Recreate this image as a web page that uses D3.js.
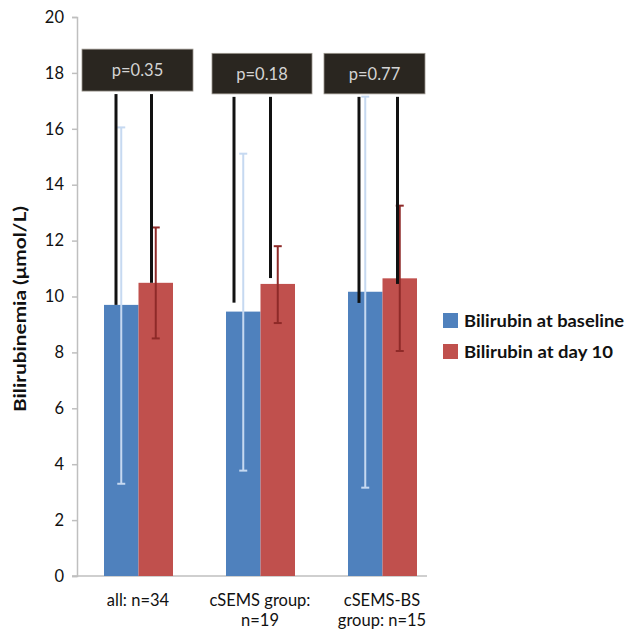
<!DOCTYPE html>
<html>
<head>
    <script src='https://d3js.org/d3.v7.min.js'></script>
    <style>
        body { margin: 0; background: #fff; }
        text { font-family: Lato, 'Open Sans', sans-serif; }
    </style>
</head>
<body>
<svg width='630' height='629'></svg>
<script>

    // data
    var groups = ['all: n=34', 'cSEMS group:\nn=19', 'cSEMS-BS\ngroup: n=15'];
    var seriesNames = ['Bilirubin at baseline', 'Bilirubin at day 10'];
    var baseline = [9.7, 9.46, 10.17];
    var baselineLow = [3.3, 3.77, 3.16];
    var baselineHigh = [16.05, 15.11, 17.15];
    var day10 = [10.49, 10.45, 10.65];
    var day10Low = [8.5, 9.05, 8.05];
    var day10High = [12.47, 11.8, 13.25];
    var pLabels = ['p=0.35', 'p=0.18', 'p=0.77'];
    var pBoxTop = [18.85, 18.7, 18.7];
    var pBoxBottom = [17.35, 17.25, 17.25];
    var bracketLeftEnd = [9.7, 9.78, 9.77];
    var bracketRightEnd = [10.49, 10.66, 10.45];
    var yTicks = [0, 2, 4, 6, 8, 10, 12, 14, 16, 18, 20];

    (function () {
    var colors = ['#4f81bd', '#c0504d'];
    var errColors = ['#c6d9f1', '#8e2a28'];

    var svg = d3.select('svg');

    // plot area
    var plotLeft = 77, plotTop = 17, plotBottom = 576;

    var y = d3.scaleLinear().domain([0, 20]).range([plotBottom, plotTop]);
    var x0 = d3.scaleBand().domain(d3.range(groups.length)).range([plotLeft, plotLeft + 366]);
    var x1 = d3.scaleBand().domain([0, 1]).range([27, 96]);

    // y axis
    var yAxis = svg.append('g')
        .attr('transform', 'translate(' + plotLeft + ',0)')
        .call(d3.axisLeft(y).tickValues(yTicks).tickSize(5).tickPadding(8));
    yAxis.select('.domain').attr('stroke', '#bfbfbf').attr('stroke-width', 1.5);
    yAxis.selectAll('.tick line').attr('stroke', '#bfbfbf').attr('stroke-width', 1.5);
    yAxis.selectAll('.tick text').attr('font-size', 16.5).attr('fill', '#111')
        .style('font-family', 'Lato, sans-serif');

    // x axis line
    svg.append('line')
        .attr('x1', plotLeft - 5).attr('x2', 427)
        .attr('y1', y(0)).attr('y2', y(0))
        .attr('stroke', '#bfbfbf').attr('stroke-width', 1.5);

    // bars
    var rows = groups.map(function (g, i) {
        return [
            { g: i, s: 0, v: baseline[i], lo: baselineLow[i], hi: baselineHigh[i] },
            { g: i, s: 1, v: day10[i], lo: day10Low[i], hi: day10High[i] }
        ];
    });

    var gg = svg.selectAll('.grp')
        .data(rows)
        .enter()
        .append('g')
        .attr('transform', function (d, i) { return 'translate(' + x0(i) + ',0)'; });

    gg.selectAll('rect')
        .data(function (d) { return d; })
        .enter()
        .append('rect')
        .attr('x', function (d) { return x1(d.s); })
        .attr('width', x1.bandwidth())
        .attr('y', function (d) { return y(d.v); })
        .attr('height', function (d) { return y(0) - y(d.v); })
        .attr('fill', function (d) { return colors[d.s]; });

    // error bars
    var eb = gg.selectAll('.eb')
        .data(function (d) { return d; })
        .enter()
        .append('g')
        .attr('stroke', function (d) { return errColors[d.s]; })
        .attr('stroke-width', 2);
    eb.append('line')
        .attr('x1', function (d) { return x1(d.s) + x1.bandwidth() / 2; })
        .attr('x2', function (d) { return x1(d.s) + x1.bandwidth() / 2; })
        .attr('y1', function (d) { return y(d.lo); })
        .attr('y2', function (d) { return y(d.hi); });
    eb.each(function (d) {
        var cx = x1(d.s) + x1.bandwidth() / 2;
        d3.select(this).selectAll('.cap')
            .data([d.lo, d.hi])
            .enter()
            .append('line')
            .attr('x1', cx - 4).attr('x2', cx + 4)
            .attr('y1', function (v) { return y(v); })
            .attr('y2', function (v) { return y(v); });
    });

    // p-value brackets
    var lineOffsets = [[12, 13], [8, 10], [11, 15]];
    var boxOffsets = [5, 13, 3];
    var boxWidths = [111, 100, 101];
    groups.forEach(function (g, i) {
        var lx = x0(i) + x1(0) + lineOffsets[i][0];
        var rx = x0(i) + x1(1) + lineOffsets[i][1];
        svg.append('line')
            .attr('x1', lx).attr('x2', lx)
            .attr('y1', y(pBoxBottom[i]) + 3).attr('y2', y(bracketLeftEnd[i]))
            .attr('stroke', '#111').attr('stroke-width', 3);
        svg.append('line')
            .attr('x1', rx).attr('x2', rx)
            .attr('y1', y(pBoxBottom[i]) + 3).attr('y2', y(bracketRightEnd[i]))
            .attr('stroke', '#111').attr('stroke-width', 3);
        var bx = x0(i) + boxOffsets[i], bw = boxWidths[i];
        svg.append('rect')
            .attr('x', bx).attr('width', bw)
            .attr('y', y(pBoxTop[i])).attr('height', y(pBoxBottom[i]) - y(pBoxTop[i]))
            .attr('fill', '#2a2620').attr('stroke', '#9a958c').attr('stroke-width', 0.8);
        svg.append('text')
            .attr('x', bx + bw / 2)
            .attr('y', (y(pBoxTop[i]) + y(pBoxBottom[i])) / 2 + 6)
            .attr('text-anchor', 'middle')
            .attr('font-size', 16.5)
            .attr('fill', '#d4d4d4')
            .text(pLabels[i]);
    });

    // x category labels
    groups.forEach(function (g, i) {
        var cx = x0(i) + x0.bandwidth() / 2;
        var t = svg.append('text')
            .attr('x', cx)
            .attr('y', 606)
            .attr('text-anchor', 'middle')
            .attr('font-size', 16.5)
            .attr('fill', '#111');
        g.split('\n').forEach(function (line, k) {
            t.append('tspan')
                .attr('x', cx)
                .attr('dy', k === 0 ? 0 : 20)
                .text(line);
        });
    });

    // y title
    svg.append('text')
        .attr('transform', 'translate(26,309) rotate(-90)')
        .attr('text-anchor', 'middle')
        .attr('font-size', 17)
        .attr('font-weight', 'bold')
        .attr('fill', '#111')
        .attr('textLength', 206)
        .attr('lengthAdjust', 'spacingAndGlyphs')
        .text('Bilirubinemia (\u03bcmol/L)');

    // legend
    var legendLengths = [160, 149];
    var lg = svg.selectAll('.legend')
        .data(seriesNames)
        .enter()
        .append('g')
        .attr('transform', function (d, i) { return 'translate(443,' + (320 + i * 31) + ')'; });
    lg.append('rect')
        .attr('x', 0).attr('y', -7)
        .attr('width', 15).attr('height', 15)
        .attr('fill', function (d, i) { return colors[i]; });
    lg.append('text')
        .attr('x', 21).attr('y', 7)
        .attr('font-size', 17)
        .attr('font-weight', 'bold')
        .attr('fill', '#111')
        .attr('textLength', function (d, i) { return legendLengths[i]; })
        .attr('lengthAdjust', 'spacingAndGlyphs')
        .text(function (d) { return d; });
    })();

</script>
</body>
</html>
